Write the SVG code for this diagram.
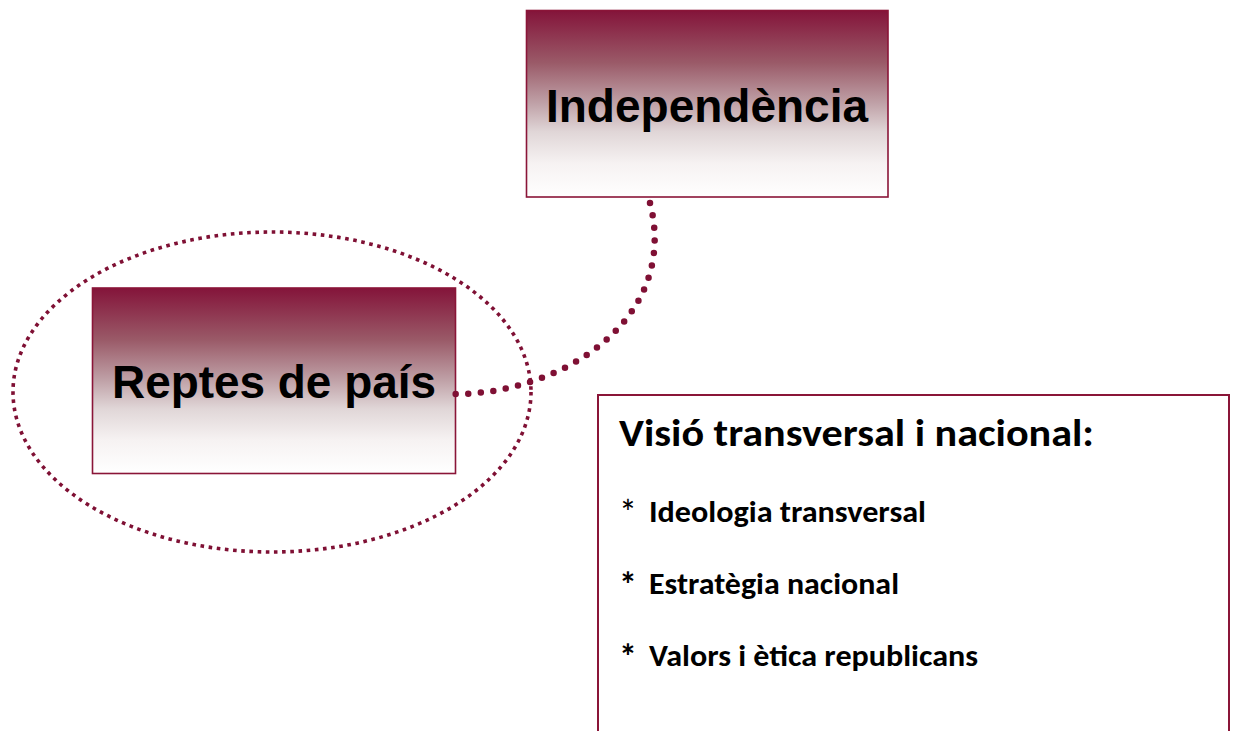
<svg xmlns="http://www.w3.org/2000/svg" width="1237" height="731" viewBox="0 0 1237 731">
  <style>
    .node-box { stroke: #8a1538; stroke-width: 1.6; fill: url(#maroonGrad); }
    .node-label { font-family: "Liberation Sans", Arial, sans-serif; font-weight: bold; font-size: 46px; fill: #000; text-anchor: middle; }
    .panel { fill: #ffffff; stroke: #8a1538; stroke-width: 2; }
    .panel-title { font-family: Carlito, Calibri, "Open Sans", sans-serif; font-weight: bold; font-size: 38px; fill: #000; }
    .panel-item { font-family: Carlito, Calibri, "Open Sans", sans-serif; font-weight: bold; font-size: 30px; fill: #000; }
    .bullet { font-family: Carlito, Calibri, "Open Sans", sans-serif; font-weight: bold; font-size: 36px; fill: #000; }
    .connector { fill: none; stroke: #7f1034; stroke-width: 6.5; stroke-linecap: round; stroke-dasharray: 0 12.6; }
    .halo { fill: none; stroke: #7f1034; stroke-width: 3.6; stroke-dasharray: 3.6 4.6; }
  </style>
  <defs>
    <linearGradient id="maroonGrad" x1="0" y1="0" x2="0" y2="1">
      <stop offset="0" stop-color="#84143a"/>
      <stop offset="0.28" stop-color="#9a5a68"/>
      <stop offset="0.5" stop-color="#c0a2a8"/>
      <stop offset="0.65" stop-color="#e0d6d7"/>
      <stop offset="0.82" stop-color="#f6f2f2"/>
      <stop offset="1" stop-color="#ffffff"/>
    </linearGradient>
  </defs>
  <rect width="1237" height="731" fill="#ffffff"/>

  <g id="halo-reptes">
    <ellipse class="halo" cx="272" cy="392" rx="259" ry="160"/>
  </g>

  <g id="node-independencia">
    <rect class="node-box" x="526.5" y="10.5" width="361.5" height="186.5"/>
    <text class="node-label" x="707" y="122" textLength="322" lengthAdjust="spacingAndGlyphs">Independència</text>
  </g>

  <g id="node-reptes">
    <rect class="node-box" x="92.5" y="288" width="363" height="185.5"/>
    <text class="node-label" x="274" y="398" textLength="324" lengthAdjust="spacingAndGlyphs">Reptes de país</text>
  </g>

  <g id="connectors">
    <path class="connector" d="M650,203 C680,320 560,395 453,394"/>
  </g>

  <g id="panel-visio">
    <path class="panel" d="M598,740 L598,395 L1229,395 L1229,740"/>
    <text class="panel-title" x="619" y="446" textLength="475" lengthAdjust="spacingAndGlyphs">Visió transversal i nacional:</text>
    <text class="bullet" x="619" y="525" style="font-weight:normal">*</text>
    <text class="panel-item" x="649" y="522" textLength="277" lengthAdjust="spacingAndGlyphs">Ideologia transversal</text>
    <text class="bullet" x="619" y="597">*</text>
    <text class="panel-item" x="649" y="594" textLength="250" lengthAdjust="spacingAndGlyphs">Estratègia nacional</text>
    <text class="bullet" x="619" y="669">*</text>
    <text class="panel-item" x="649" y="666" textLength="329" lengthAdjust="spacingAndGlyphs">Valors i ètica republicans</text>
  </g>
</svg>
